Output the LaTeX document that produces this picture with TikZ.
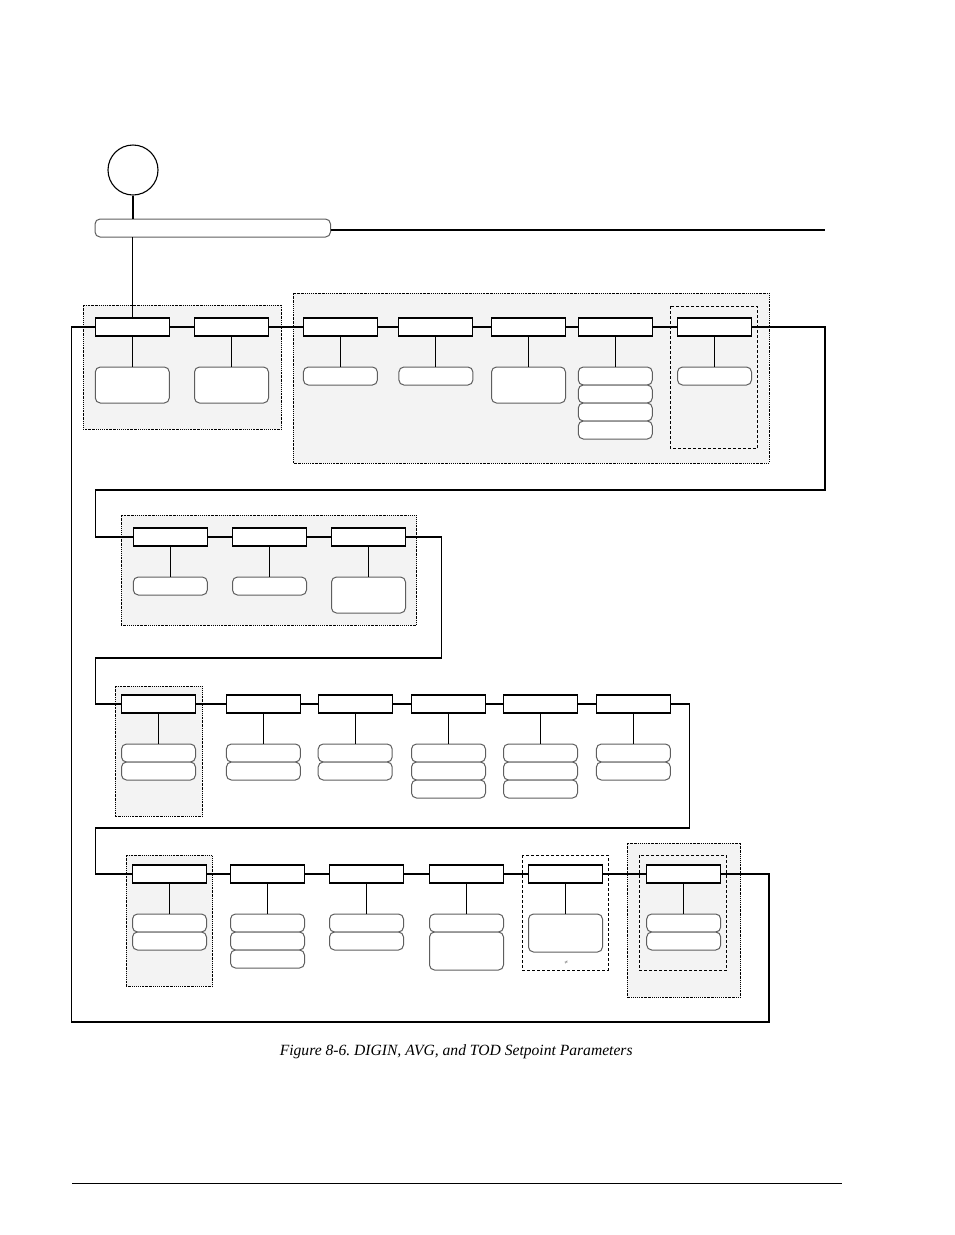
\documentclass[tikz,border=0pt]{standalone}
\usepackage{fontspec}
\setmainfont{Liberation Serif}
\usetikzlibrary{positioning}
\definecolor{groupfill}{HTML}{F3F3F3}
\definecolor{choiceline}{HTML}{5E5E5E}
\tikzstyle{every picture} = [x=1pt, y=-1pt, line width=1.1pt]
\tikzstyle{param} = [rectangle, draw, fill=white, minimum width=74pt, minimum height=18pt, inner sep=0pt, outer sep=0pt]
\tikzstyle{choice} = [rectangle, rounded corners=5pt, draw=choiceline, fill=white, minimum width=74pt, minimum height=18pt, inner sep=0pt, outer sep=0pt, line width=1pt]
\tikzstyle{tallchoice} = [choice, minimum height=36pt]
\tikzstyle{groupbox} = [fill=groupfill, dash pattern=on 1.6pt off 1pt on 0.6pt off 1pt, line width=0.9pt]
\tikzstyle{dashbox} = [dash pattern=on 3pt off 2pt, line width=1pt]

\begin{document}
\frenchspacing
\begin{tikzpicture}
\useasboundingbox (0,0) rectangle (954,1235);
% shaded groups
\draw[groupbox] (83,305) rectangle (281.5,429);
\draw[groupbox] (293,293) rectangle (769,463);
\draw[dashbox] (670,306) rectangle (757.5,448);
\draw[groupbox] (121,515) rectangle (416.5,625);
\draw[groupbox] (115,686) rectangle (202.5,816);
\draw[groupbox] (126,855) rectangle (212.5,986);
\draw[dashbox] (522,855) rectangle (608,970);
\draw[groupbox] (627,843) rectangle (740.5,997);
\draw[dashbox] (639,855) rectangle (726.5,970);

\node (start) at (133,170) [circle, draw, minimum size=50pt, inner sep=0pt] {};
\node (top) at (212.75,228) [choice, minimum width=235.5pt] {};
\coordinate (top end) at (825,230);

% row 1
\node (param 1) at (132.3,327) [param] {};
\node (param 2) at (231.5,327) [param] {};
\node (param 3) at (340.4,327) [param] {};
\node (param 4) at (435.9,327) [param] {};
\node (param 5) at (528.5,327) [param] {};
\node (param 6) at (615.3,327) [param] {};
\node (param 7) at (714.5,327) [param] {};
\node (choice 1) [tallchoice, below=31pt of param 1] {};
\node (choice 2) [tallchoice, below=31pt of param 2] {};
\node (choice 3) [choice, below=31pt of param 3] {};
\node (choice 4) [choice, below=31pt of param 4] {};
\node (choice 5) [tallchoice, below=31pt of param 5] {};
\node (choice 6a) [choice, below=31pt of param 6] {};
\node (choice 6b) [choice, below=0pt of choice 6a] {};
\node (choice 6c) [choice, below=0pt of choice 6b] {};
\node (choice 6d) [choice, below=0pt of choice 6c] {};
\node (choice 7) [choice, below=31pt of param 7] {};

% row 2
\node (param 8) at (170.3,537) [param] {};
\node (param 9) at (269.5,537) [param] {};
\node (param 10) at (368.5,537) [param] {};
\node (choice 8) [choice, below=31pt of param 8] {};
\node (choice 9) [choice, below=31pt of param 9] {};
\node (choice 10) [tallchoice, below=31pt of param 10] {};

% row 3
\node (param 11) at (158.5,704) [param] {};
\node (param 12) at (263.4,704) [param] {};
\node (param 13) at (355.2,704) [param] {};
\node (param 14) at (448.5,704) [param] {};
\node (param 15) at (540.5,704) [param] {};
\node (param 16) at (633.4,704) [param] {};
\node (choice 11a) [choice, below=31pt of param 11] {};
\node (choice 11b) [choice, below=0pt of choice 11a] {};
\node (choice 12a) [choice, below=31pt of param 12] {};
\node (choice 12b) [choice, below=0pt of choice 12a] {};
\node (choice 13a) [choice, below=31pt of param 13] {};
\node (choice 13b) [choice, below=0pt of choice 13a] {};
\node (choice 14a) [choice, below=31pt of param 14] {};
\node (choice 14b) [choice, below=0pt of choice 14a] {};
\node (choice 14c) [choice, below=0pt of choice 14b] {};
\node (choice 15a) [choice, below=31pt of param 15] {};
\node (choice 15b) [choice, below=0pt of choice 15a] {};
\node (choice 15c) [choice, below=0pt of choice 15b] {};
\node (choice 16a) [choice, below=31pt of param 16] {};
\node (choice 16b) [choice, below=0pt of choice 16a] {};

% row 4
\node (param 17) at (169.5,874) [param] {};
\node (param 18) at (267.5,874) [param] {};
\node (param 19) at (366.5,874) [param] {};
\node (param 20) at (466.5,874) [param] {};
\node (param 21) at (565.5,874) [param] {};
\node (param 22) at (683.7,874) [param] {};
\node (choice 17a) [choice, below=31pt of param 17] {};
\node (choice 17b) [choice, below=0pt of choice 17a] {};
\node (choice 18a) [choice, below=31pt of param 18] {};
\node (choice 18b) [choice, below=0pt of choice 18a] {};
\node (choice 18c) [choice, below=0pt of choice 18b] {};
\node (choice 19a) [choice, below=31pt of param 19] {};
\node (choice 19b) [choice, below=0pt of choice 19a] {};
\node (choice 20a) [choice, below=31pt of param 20] {};
\node (choice 20b) [tallchoice, minimum height=38pt, below=0pt of choice 20a] {};
\node (choice 21) [tallchoice, minimum height=38pt, below=31pt of param 21] {};
\node (choice 22a) [choice, below=31pt of param 22] {};
\node (choice 22b) [choice, below=0pt of choice 22a] {};
\node (mark) at (566.3,962.5) [font=\fontsize{6}{6}\selectfont, inner sep=0pt, text=black!70] {≠};

% connectors
\draw (start) -- (start |- top.north);
\draw (top.east |- top end) -- (top end);
\draw (param 1.north |- top.south) -- (param 1);
\path (param 1) edge (param 2)  (param 2) edge (param 3)  (param 3) edge (param 4)
      (param 4) edge (param 5)  (param 5) edge (param 6)  (param 6) edge (param 7)
      (param 8) edge (param 9)  (param 9) edge (param 10)
      (param 11) edge (param 12)  (param 12) edge (param 13)  (param 13) edge (param 14)
      (param 14) edge (param 15)  (param 15) edge (param 16)
      (param 17) edge (param 18)  (param 18) edge (param 19)  (param 19) edge (param 20)
      (param 20) edge (param 21)  (param 21) edge (param 22);
\path (param 1) edge (choice 1)  (param 2) edge (choice 2)  (param 3) edge (choice 3)
      (param 4) edge (choice 4)  (param 5) edge (choice 5)  (param 6) edge (choice 6a)
      (param 7) edge (choice 7)
      (param 8) edge (choice 8)  (param 9) edge (choice 9)  (param 10) edge (choice 10)
      (param 11) edge (choice 11a)  (param 12) edge (choice 12a)  (param 13) edge (choice 13a)
      (param 14) edge (choice 14a)  (param 15) edge (choice 15a)  (param 16) edge (choice 16a)
      (param 17) edge (choice 17a)  (param 18) edge (choice 18a)  (param 19) edge (choice 19a)
      (param 20) edge (choice 20a)  (param 21) edge (choice 21)  (param 22) edge (choice 22a);

\coordinate (turn 1a) at (825,490);
\coordinate (turn 1b) at (95.5,490);
\coordinate (turn 2a) at (441.5,658);
\coordinate (turn 2b) at (95.5,658);
\coordinate (turn 3a) at (689.5,828);
\coordinate (turn 3b) at (95.5,828);
\coordinate (turn 4a) at (769,1022);
\coordinate (turn 4b) at (71.5,1022);
\draw (param 7) -| (turn 1a) -- (turn 1b) |- (param 8);
\draw (param 10) -| (turn 2a) -- (turn 2b) |- (param 11);
\draw (param 16) -| (turn 3a) -- (turn 3b) |- (param 17);
\draw (param 22) -| (turn 4a) -- (turn 4b) |- (param 1);

\node (caption) at (456.2,1052) [font=\fontsize{15.6}{18}\selectfont\itshape] {Figure 8-6. DIGIN, AVG, and TOD Setpoint Parameters};
\draw[line width=1.4pt] (72,1183.3) -- (842,1183.3);
\end{tikzpicture}
\end{document}
